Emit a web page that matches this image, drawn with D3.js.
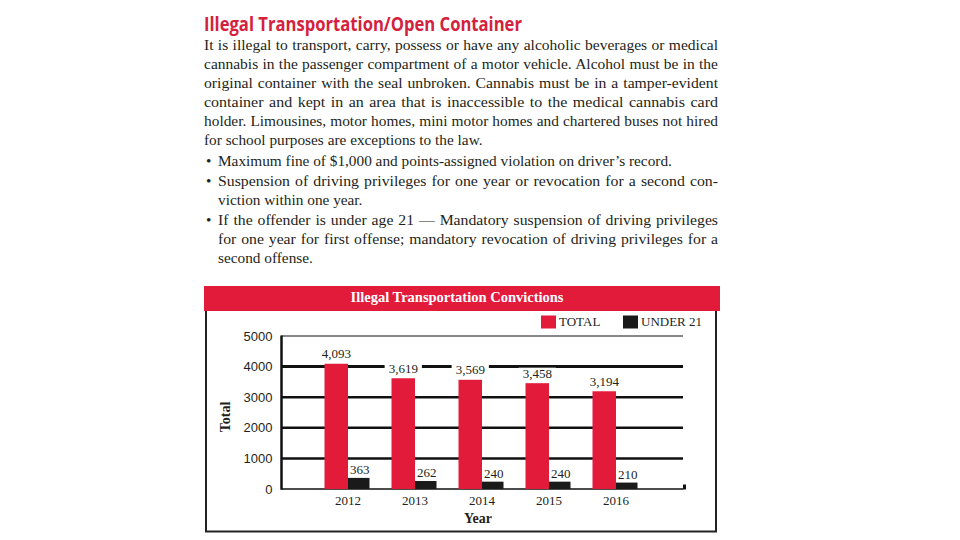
<!DOCTYPE html>
<html>
<head>
<meta charset="utf-8">
<script src="https://cdn.jsdelivr.net/npm/d3@7/dist/d3.min.js"></script>
<style>
  body { margin: 0; background: #fff; }
  svg { display: block; }
</style>
</head>
<body>
<div id="chart"></div>
<script>
// chart values
const years = ['2012', '2013', '2014', '2015', '2016'];
const totals = [4093, 3619, 3569, 3458, 3194];
const under21 = [363, 262, 240, 240, 210];
const yTicks = [0, 1000, 2000, 3000, 4000, 5000];
const seriesNames = ['TOTAL', 'UNDER 21'];

// page text
const heading = 'Illegal Transportation/Open Container';
const paragraph = [
    'It is illegal to transport, carry, possess or have any alcoholic beverages or medical',
    'cannabis in the passenger compartment of a motor vehicle. Alcohol must be in the',
    'original container with the seal unbroken. Cannabis must be in a tamper-evident',
    'container and kept in an area that is inaccessible to the medical cannabis card',
    'holder. Limousines, motor homes, mini motor homes and chartered buses not hired',
    'for school purposes are exceptions to the law.'
];
const bullets = [
    ['Maximum fine of $1,000 and points-assigned violation on driver\u2019s record.'],
    ['Suspension of driving privileges for one year or revocation for a second con-',
     'viction within one year.'],
    ['If the offender is under age 21 \u2014 Mandatory suspension of driving privileges',
     'for one year for first offense; mandatory revocation of driving privileges for a',
     'second offense.']
];

const red = '#e31b3b';
const ink = '#231f20';
const serif = '"Liberation Serif", "Times New Roman", serif';
const sans = '"Liberation Sans", Arial, sans-serif';
const bodySize = '15.3px';

const svg = d3.select('#chart').append('svg')
    .attr('width', 960)
    .attr('height', 540);

svg.append('text')
    .attr('x', 204).attr('y', 31)
    .attr('fill', '#d4213d')
    .style('font-family', '"Open Sans", sans-serif')
    .style('font-weight', 700)
    .style('font-size', '19px')
    .attr('textLength', 318)
    .attr('lengthAdjust', 'spacingAndGlyphs')
    .text(heading);

// justify a line: part word gaps, part a slight horizontal stretch
const textLine = (x, y, str, right, justify) => {
    const t = svg.append('text')
        .attr('x', x).attr('y', y)
        .attr('fill', ink)
        .style('font-family', serif)
        .style('font-size', bodySize)
        .text(str);
    if (justify) {
        const w = t.node().getComputedTextLength();
        const gaps = str.split(' ').length - 1;
        const extra = right - x - w;
        if (gaps > 0 && extra > 0) t.attr('word-spacing', extra * 0.45 / gaps);
        t.attr('textLength', right - x).attr('lengthAdjust', 'spacingAndGlyphs');
    }
    return t;
};

const bodyY = [49.5, 68.5, 87.5, 106.5, 125.5, 145];
paragraph.forEach((line, i) => textLine(204, bodyY[i], line, 718, i < paragraph.length - 1));

const bulletY = [[166], [185.5, 205], [225, 244, 263]];
bullets.forEach((lines, b) => {
    svg.append('text')
        .attr('x', 206).attr('y', bulletY[b][0])
        .attr('fill', ink)
        .style('font-family', serif)
        .style('font-size', bodySize)
        .text('\u2022');
    lines.forEach((line, i) => textLine(218, bulletY[b][i], line, 718, i < lines.length - 1));
});

// chart frame
svg.append('rect')
    .attr('x', 206).attr('y', 300)
    .attr('width', 510).attr('height', 231.5)
    .attr('fill', 'none')
    .attr('stroke', '#222')
    .attr('stroke-width', 2);

svg.append('rect')
    .attr('x', 204).attr('y', 286)
    .attr('width', 516).attr('height', 25)
    .attr('fill', red);

svg.append('text')
    .attr('x', 457).attr('y', 302)
    .attr('text-anchor', 'middle')
    .attr('fill', '#fff')
    .style('font-family', serif)
    .style('font-weight', 700)
    .style('font-size', '14.5px')
    .text('Illegal Transportation Convictions');

// legend
const legendX = [541, 623];
const legendFill = [red, '#1a1a1a'];
seriesNames.forEach((name, i) => {
    svg.append('rect')
        .attr('x', legendX[i]).attr('y', 315.5)
        .attr('width', 15).attr('height', 13)
        .attr('fill', legendFill[i]);
    svg.append('text')
        .attr('x', legendX[i] + 18).attr('y', 326)
        .attr('fill', ink)
        .style('font-family', serif)
        .style('font-size', '13px')
        .text(name);
});

const x = d3.scaleBand().domain(years).range([314.5, 649.5]);
const y = d3.scaleLinear().domain([0, 5000]).range([489, 336]);
const mid = (d) => x(d) + x.bandwidth() / 2;
const axisLeft = 281.5, axisRight = 683;

// gridlines
svg.append('g').selectAll('line')
    .data(yTicks)
    .enter().append('line')
    .attr('x1', axisLeft).attr('x2', axisRight)
    .attr('y1', (d) => y(d)).attr('y2', (d) => y(d))
    .attr('stroke', '#111')
    .attr('stroke-width', (d) => d === 5000 ? 1 : d === 0 ? 1.5 : d === 4000 ? 3 : 2.5);

svg.append('line')
    .attr('x1', axisLeft).attr('x2', axisLeft)
    .attr('y1', y(5000) - 0.5).attr('y2', y(0) + 0.75)
    .attr('stroke', '#111')
    .attr('stroke-width', 2.5);

svg.append('rect')
    .attr('x', axisRight).attr('y', y(0) - 4.5)
    .attr('width', 3).attr('height', 5)
    .attr('fill', '#111');

// y tick labels
const yAxis = svg.append('g')
    .attr('transform', 'translate(' + axisLeft + ',0)')
    .call(d3.axisLeft(y).tickValues(yTicks).tickFormat(d3.format('d')).tickSize(0).tickPadding(9));
yAxis.select('.domain').remove();
yAxis.selectAll('text')
    .attr('fill', ink)
    .style('font-family', sans)
    .style('font-size', '13px');

// x tick labels
const xAxis = svg.append('g')
    .attr('transform', 'translate(0,' + y(0) + ')')
    .call(d3.axisBottom(x).tickSize(0).tickPadding(6.5));
xAxis.select('.domain').remove();
xAxis.selectAll('text')
    .attr('fill', ink)
    .style('font-family', serif)
    .style('font-size', '13px');

svg.append('text')
    .attr('x', 478).attr('y', 522.5)
    .attr('text-anchor', 'middle')
    .attr('fill', ink)
    .style('font-family', serif)
    .style('font-weight', 700)
    .style('font-size', '14px')
    .text('Year');

svg.append('text')
    .attr('transform', 'translate(230,417)rotate(-90)')
    .attr('text-anchor', 'middle')
    .attr('fill', ink)
    .style('font-family', serif)
    .style('font-weight', 700)
    .style('font-size', '14px')
    .text('Total');

// bars
const redW = 23.5, blackW = 21.5;
svg.append('g').selectAll('rect')
    .data(years)
    .enter().append('rect')
    .attr('x', (d) => mid(d) - redW)
    .attr('y', (d, i) => y(totals[i]))
    .attr('width', redW)
    .attr('height', (d, i) => y(0) - y(totals[i]))
    .attr('fill', red);

svg.append('g').selectAll('rect')
    .data(years)
    .enter().append('rect')
    .attr('x', (d) => mid(d))
    .attr('y', (d, i) => y(under21[i]))
    .attr('width', blackW)
    .attr('height', (d, i) => y(0) - y(under21[i]))
    .attr('fill', '#1a1a1a');

// value labels
const comma = d3.format(',');
const totalLabels = svg.append('g').selectAll('g')
    .data(years)
    .enter().append('g');
totalLabels.append('text')
    .attr('x', (d) => mid(d) - redW / 2)
    .attr('y', (d, i) => y(totals[i]) - 5.5)
    .attr('text-anchor', 'middle')
    .attr('fill', ink)
    .style('font-family', serif)
    .style('font-size', '13px')
    .text((d, i) => comma(totals[i]));
totalLabels.each(function () {
    const g = d3.select(this);
    const b = g.select('text').node().getBBox();
    g.insert('rect', 'text')
        .attr('x', b.x - 4).attr('y', b.y + 2)
        .attr('width', b.width + 8).attr('height', b.height - 2)
        .attr('fill', '#fff');
});

svg.append('g').selectAll('text')
    .data(years)
    .enter().append('text')
    .attr('x', (d) => mid(d) + blackW / 2 + 1)
    .attr('y', (d, i) => y(under21[i]) - 4)
    .attr('text-anchor', 'middle')
    .attr('fill', ink)
    .style('font-family', serif)
    .style('font-size', '13px')
    .text((d, i) => under21[i]);
</script>
</body>
</html>
